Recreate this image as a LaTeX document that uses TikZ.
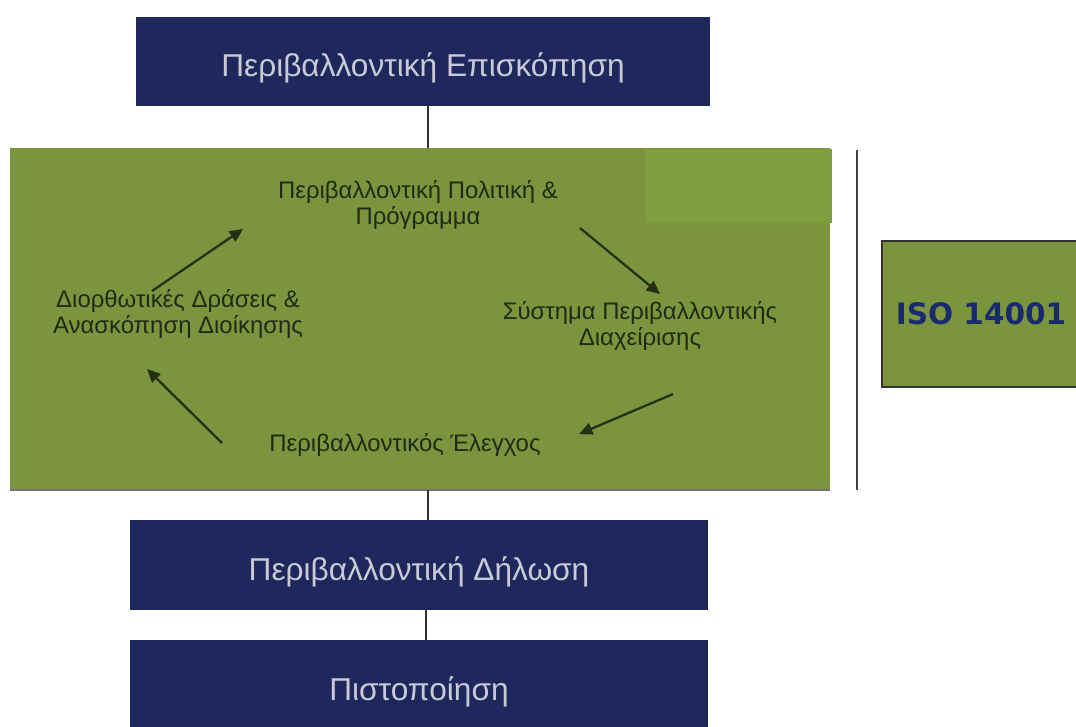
\documentclass[tikz,border=0pt]{standalone}
\usepackage{fontspec}
\setmainfont{Liberation Sans}
\newfontfamily\isofont{DejaVu Sans}
\usetikzlibrary{arrows.meta}
\definecolor{navy}{RGB}{30,40,92}
\definecolor{olivebg}{RGB}{122,149,62}
\definecolor{olivepatch}{RGB}{128,158,64}
\definecolor{navytext}{RGB}{200,202,214}
\definecolor{greentext}{RGB}{36,40,20}
\definecolor{arrowcol}{RGB}{38,46,22}
\definecolor{isoblue}{RGB}{26,42,110}
\tikzset{
  navybox/.style={fill=navy, draw=none, inner sep=0pt},
  navylabel/.style={text=navytext, font=\fontsize{22.5}{26}\selectfont, inner sep=0pt, yshift=-0.17cm},
  cycletext/.style={text=greentext, align=center, font=\fontsize{17}{19}\selectfont, inner sep=0pt},
  cyclearrow/.style={draw=arrowcol, line width=1.6pt, -{Triangle[width=8.5pt,length=9.5pt]}},
  link/.style={draw=black!80, line width=1.2pt},
}
\begin{document}
\begin{tikzpicture}[x=0.025cm,y=-0.025cm]
\useasboundingbox (0,0) rectangle (1076,726);
\fill[white] (0,0) rectangle (1076,726);
% boxes
\node[navybox, minimum width=14.35cm, minimum height=2.225cm,
      label={[navylabel]center:Περιβαλλοντική Επισκόπηση}] (top) at (423,61.5) {};
\node[fill=olivebg, draw=none, minimum width=20.5cm, minimum height=8.55cm, inner sep=0pt] (green) at (420,319) {};
\fill[olivepatch] (645,149) rectangle (832,223);
\draw[black!55, line width=1.2pt] (green.south west) -- (green.south east);
\node[navybox, minimum width=14.45cm, minimum height=2.25cm,
      label={[navylabel]center:Περιβαλλοντική Δήλωση}] (decl) at (419,565) {};
\node[navybox, minimum width=14.45cm, minimum height=2.25cm,
      label={[navylabel]center:Πιστοποίηση}] (cert) at (419,685) {};
\node[fill=olivebg, draw=black!80, line width=1.2pt, minimum width=4.95cm, minimum height=3.65cm, inner sep=0pt,
      text=isoblue, font=\isofont\bfseries\fontsize{21}{24}\selectfont] (iso) at (981,314) {ISO 14001};
% connectors
\coordinate (c1) at (428,0);
\coordinate (c2) at (426,0);
\draw[link] (top.south -| c1) -- (green.north -| c1);
\draw[link] (green.south -| c1) -- (decl.north -| c1);
\draw[link] (decl.south -| c2) -- (cert.north -| c2);
\coordinate (vt) at (857,150);
\coordinate (vb) at (857,490);
\draw[draw=black!75, line width=1.2pt] (vt) -- (vb);
% cycle texts
\node[cycletext] (policy) at (418,205) {Περιβαλλοντική Πολιτική \&\\Πρόγραμμα};
\node[cycletext] (system) at (640,326) {Σύστημα Περιβαλλοντικής\\Διαχείρισης};
\node[cycletext] (audit) at (405,445) {Περιβαλλοντικός Έλεγχος};
\node[cycletext] (actions) at (178,314) {Διορθωτικές Δράσεις \&\\Ανασκόπηση Διοίκησης};
% arrows
\coordinate (a1s) at (152,291); \coordinate (a1e) at (243,229);
\coordinate (a2s) at (580,228); \coordinate (a2e) at (660,294);
\coordinate (a3s) at (673,394); \coordinate (a3e) at (579,434);
\coordinate (a4s) at (222,443); \coordinate (a4e) at (147,369);
\draw[cyclearrow] (a1s) -- (a1e);
\draw[cyclearrow] (a2s) -- (a2e);
\draw[cyclearrow] (a3s) -- (a3e);
\draw[cyclearrow] (a4s) -- (a4e);
\end{tikzpicture}
\end{document}
